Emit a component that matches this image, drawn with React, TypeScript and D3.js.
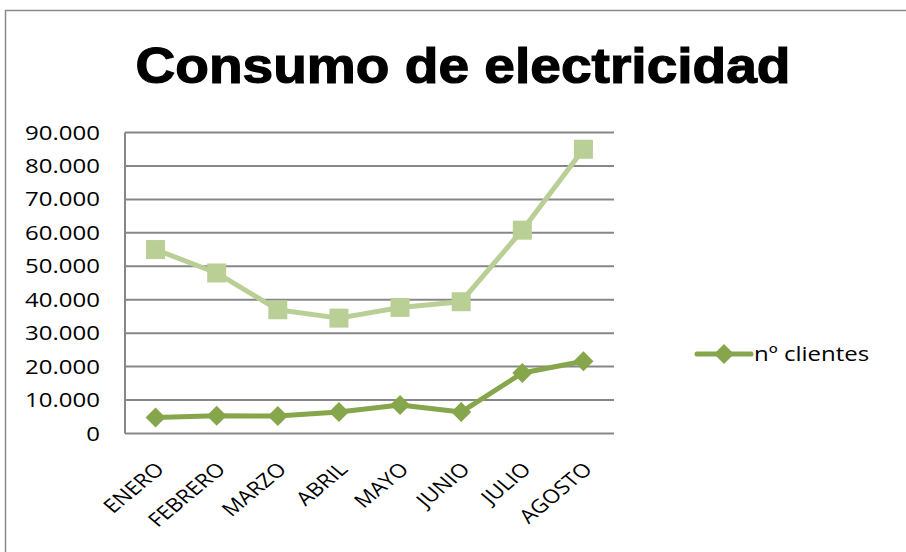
import React from "react";
import * as d3 from "d3";

const months = ["ENERO", "FEBRERO", "MARZO", "ABRIL", "MAYO", "JUNIO", "JULIO", "AGOSTO"];
const consumo = [55000, 48000, 37000, 34500, 37700, 39400, 60800, 85000];
const clientes = [4800, 5300, 5200, 6400, 8500, 6400, 18100, 21600];
const yTicks = [0, 10000, 20000, 30000, 40000, 50000, 60000, 70000, 80000, 90000];
const legendLabel = "nº clientes";
const title = "Consumo de electricidad";

const W = 906, H = 552;
const plot = { left: 125, right: 614, top: 132.5, bottom: 433.5 };
const lightColor = "#b9cf95";
const darkColor = "#86a64b";
const gridColor = "#878787";
const font = "'Open Sans', Calibri, 'Liberation Sans', sans-serif";
const stretch = 1.2;

export default function App() {
  const x = d3.scaleBand<string>().domain(months).range([plot.left, plot.right]);
  const y = d3.scaleLinear().domain([0, 90000]).range([plot.bottom, plot.top]);
  const cx = (m: string) => (x(m) as number) + x.bandwidth() / 2;
  const fmt = (v: number) => (v === 0 ? "0" : d3.format(",")(v).replace(/,/g, "."));
  const line = d3.line<number>().x((_, i) => cx(months[i])).y((d) => y(d));
  const diamond = (px: number, py: number, r: number) =>
    `M${px},${py - r}L${px + r},${py}L${px},${py + r}L${px - r},${py}Z`;

  return (
    <svg width={W} height={H} style={{ position: "absolute", left: 0, top: 0, background: "#fff" }}>
      <rect x={5.5} y={10.5} width={W + 10} height={H + 10} fill="#fff" stroke="#8a8a8a" strokeWidth={1.5} />
      <text x={463} y={83} textAnchor="middle" fontFamily="'Liberation Sans', Arial, sans-serif"
        fontWeight={900} fontSize={50} textLength={655} lengthAdjust="spacingAndGlyphs"
        stroke="#000" strokeWidth={1.2}>{title}</text>
      {yTicks.map((t) => (
        <g key={t}>
          <line x1={plot.left} x2={plot.right} y1={y(t)} y2={y(t)} stroke={gridColor} strokeWidth={2} />
          <text transform={`translate(100,${y(t) + 7}) scale(${stretch},1)`} textAnchor="end"
            fontFamily={font} fontSize={20} fill="#000">{fmt(t)}</text>
        </g>
      ))}
      <line x1={plot.left} x2={plot.left} y1={plot.top} y2={plot.bottom} stroke={gridColor} strokeWidth={2} />
      {months.map((m) => (
        <text key={m} transform={`translate(${cx(m) + 10},${plot.bottom + 37}) scale(${stretch},1) rotate(-45)`}
          textAnchor="end" fontFamily={font} fontSize={19} fill="#000">{m}</text>
      ))}
      <path d={line(consumo) as string} fill="none" stroke={lightColor} strokeWidth={5} strokeLinejoin="round" />
      {consumo.map((v, i) => (
        <rect key={i} x={cx(months[i]) - 9.5} y={y(v) - 9.5} width={19} height={19} fill={lightColor} />
      ))}
      <path d={line(clientes) as string} fill="none" stroke={darkColor} strokeWidth={5} strokeLinejoin="round" />
      {clientes.map((v, i) => (
        <path key={i} d={diamond(cx(months[i]), y(v), 10)} fill={darkColor} />
      ))}
      <line x1={697} x2={751} y1={354} y2={354} stroke={darkColor} strokeWidth={5} strokeLinecap="round" />
      <path d={diamond(724, 354, 10)} fill={darkColor} />
      <text transform={`translate(754,361) scale(${stretch},1)`} fontFamily={font} fontSize={20} fill="#000">{legendLabel}</text>
    </svg>
  );
}
